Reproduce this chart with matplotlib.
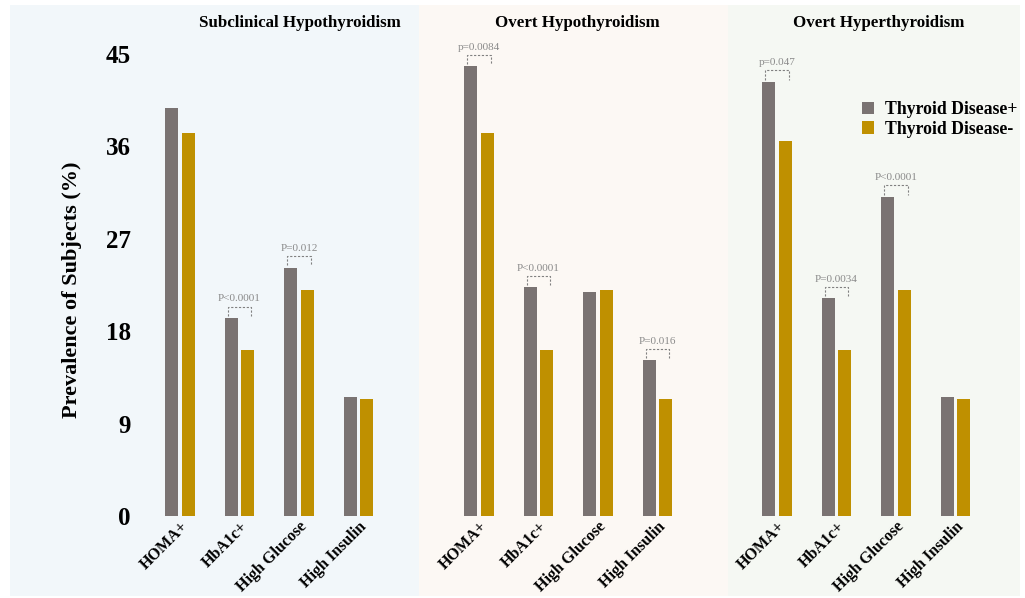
import numpy as np
import matplotlib
matplotlib.use("Agg")
import matplotlib.pyplot as plt
from matplotlib.patches import Rectangle

plt.rcParams["font.family"] = ["Liberation Serif", "DejaVu Serif"]

# Dane
categories = ["HOMA+", "HbA1c+", "High Glucose", "High Insulin"]
panels = ["Subclinical Hypothyroidism", "Overt Hypothyroidism", "Overt Hyperthyroidism"]
disease_pos = [
    [39.7, 19.3, 24.2, 11.6],
    [43.8, 22.3, 21.8, 15.2],
    [42.3, 21.2, 31.1, 11.6],
]
disease_neg = [
    [37.3, 16.2, 22.0, 11.4],
    [37.3, 16.2, 22.0, 11.4],
    [36.5, 16.2, 22.0, 11.4],
]
# adnotacje: (panel, kategoria, tekst)
pvalues = [
    (0, 1, "P<0.0001"), (0, 2, "P=0.012"),
    (1, 0, "p=0.0084"), (1, 1, "P<0.0001"), (1, 3, "P=0.016"),
    (2, 0, "p=0.047"), (2, 1, "P=0.0034"), (2, 2, "P<0.0001"),
]
yticks = [0, 9, 18, 27, 36, 45]

col_pos = "#7a7372"
col_neg = "#bf9000"
bg_colors = ["#f2f7fa", "#fcf8f4", "#f5f8f3"]

W, H = 1025, 598
fig = plt.figure(figsize=(W / 100, H / 100), dpi=100)
fig.patch.set_facecolor("white")

# tla paneli (piksele)
bg_x = [(10, 419), (419, 728), (728, 1020)]
for (x0, x1), c in zip(bg_x, bg_colors):
    fig.patches.append(Rectangle((x0 / W, 1 - 596 / H), (x1 - x0) / W, 591 / H,
                                 transform=fig.transFigure, facecolor=c,
                                 edgecolor="none", zorder=-10))

ax_left = [150.25, 449.25, 747.25]
title_x = [300, 577, 879]
x = np.arange(len(categories))
bw = 0.22
off = 0.14
axes = []
for i in range(3):
    ax = fig.add_axes([ax_left[i] / W, (H - 516) / H, 238 / W, 462 / H])
    ax.set_facecolor("none")
    b1 = ax.bar(x - off, disease_pos[i], bw, color=col_pos, label="Thyroid Disease+")
    b2 = ax.bar(x + off, disease_neg[i], bw, color=col_neg, label="Thyroid Disease-")
    ax.set_xlim(-0.5, 3.5)
    ax.set_ylim(0, 45)
    for s in ax.spines.values():
        s.set_visible(False)
    ax.set_xticks(x)
    ax.set_xticklabels(categories, rotation=45, ha="right", va="top",
                       rotation_mode="anchor", fontsize=11.5, fontweight="bold")
    ax.tick_params(axis="x", length=0, pad=2)
    if i == 0:
        ax.set_yticks(yticks)
        ax.set_yticklabels([str(t) for t in yticks], fontsize=18, fontweight="bold")
        ax.tick_params(axis="y", length=0, pad=14)
    else:
        ax.set_yticks([])
    fig.text(title_x[i] / W, 1 - 23 / H, panels[i], ha="center", va="center",
             fontsize=12.2, fontweight="bold")
    axes.append(ax)

# p-wartosci z nawiasami
for p, k, txt in pvalues:
    ax = axes[p]
    top = max(disease_pos[p][k], disease_neg[p][k])
    y0 = top + 0.2
    y1 = top + 1.1
    xa, xb = k - 0.2, k + 0.2
    ax.plot([xa, xa, xb, xb], [y0, y1, y1, y0], ls=(0, (2, 1.5)), lw=0.8,
            color="#808080", zorder=3)
    ax.text(k, y1 + 0.3, txt, ha="center", va="bottom", fontsize=8,
            color="#8a8a8a")

fig.text(72 / W, 1 - 290 / H, "Prevalence of Subjects (%)", rotation=90,
         ha="center", va="center", fontsize=16, fontweight="bold")

axes[2].legend(handles=[b1, b2], loc="upper left",
               bbox_to_anchor=(846 / W, 1 - 85 / H), bbox_transform=fig.transFigure,
               frameon=False, prop={"size": 12.8, "weight": "bold"},
               handlelength=0.7, handleheight=0.7, handletextpad=0.6,
               labelspacing=0.15)

fig.savefig("out.png", dpi=100)
